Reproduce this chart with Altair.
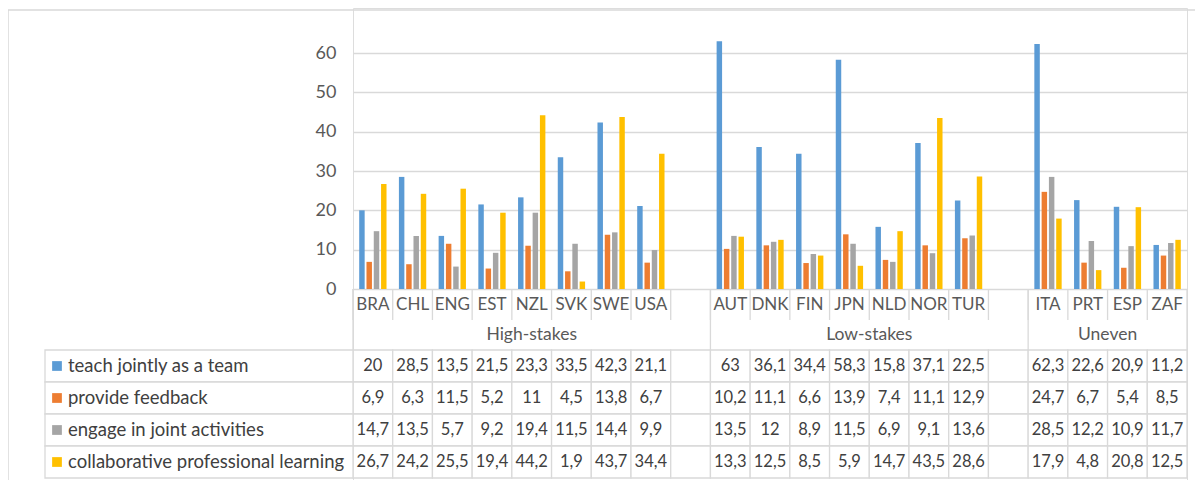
import altair as alt
import pandas as pd

# ---------------- data ----------------
slots = ["BRA", "CHL", "ENG", "EST", "NZL", "SVK", "SWE", "USA", "gap1",
         "AUT", "DNK", "FIN", "JPN", "NLD", "NOR", "TUR", "gap2",
         "ITA", "PRT", "ESP", "ZAF"]
countries = ["BRA", "CHL", "ENG", "EST", "NZL", "SVK", "SWE", "USA",
             "AUT", "DNK", "FIN", "JPN", "NLD", "NOR", "TUR",
             "ITA", "PRT", "ESP", "ZAF"]
series = ["teach jointly as a team", "provide feedback",
          "engage in joint activities", "collaborative professional learning"]
teach = [20, 28.5, 13.5, 21.5, 23.3, 33.5, 42.3, 21.1,
         63, 36.1, 34.4, 58.3, 15.8, 37.1, 22.5,
         62.3, 22.6, 20.9, 11.2]
feedback = [6.9, 6.3, 11.5, 5.2, 11, 4.5, 13.8, 6.7,
            10.2, 11.1, 6.6, 13.9, 7.4, 11.1, 12.9,
            24.7, 6.7, 5.4, 8.5]
joint = [14.7, 13.5, 5.7, 9.2, 19.4, 11.5, 14.4, 9.9,
         13.5, 12, 8.9, 11.5, 6.9, 9.1, 13.6,
         28.5, 12.2, 10.9, 11.7]
collab = [26.7, 24.2, 25.5, 19.4, 44.2, 1.9, 43.7, 34.4,
          13.3, 12.5, 8.5, 5.9, 14.7, 43.5, 28.6,
          17.9, 4.8, 20.8, 12.5]
groups = ["High-stakes", "Low-stakes", "Uneven"]
group_first = ["BRA", "AUT", "ITA"]
group_center_mid = ["NZL"]          # centre of an odd-width group: middle slot
group_center_edge = ["NLD", "ESP"]  # centre of an even-width group: slot edge
y_ticks = [0, 10, 20, 30, 40, 50, 60]
colors = ["#5B9BD5", "#ED7D31", "#A5A5A5", "#FFC000"]

# ---------------- tables ----------------
rows = []
for s, vals in zip(series, [teach, feedback, joint, collab]):
    for c, v in zip(countries, vals):
        rows.append({"slot": c, "series": s, "value": v,
                     "label": f"{v:g}".replace(".", ",")})
df = pd.DataFrame(rows)
cells_df = pd.DataFrame([{"slot": sl, "series": s} for sl in slots for s in series])
ser_df = pd.DataFrame({"series": series})
cat_df = pd.DataFrame({"slot": countries})
div_df = pd.DataFrame({"slot": slots})
gdiv_df = pd.DataFrame({"slot": group_first})
gmid_df = pd.DataFrame({"slot": group_center_mid, "g": groups[:1]})
gedge_df = pd.DataFrame({"slot": group_center_edge, "g": groups[1:]})
end_df = pd.DataFrame({"slot": [slots[-1]]})
frame_df = pd.DataFrame({"k": [0]})

FONT = "Lato"
GRID = "#D9D9D9"
TXT = "#595959"

xs = alt.Scale(type="band", domain=slots, paddingInner=0, paddingOuter=0)
rows_scale = alt.Scale(type="band", domain=series, range=[342, 470],
                       paddingInner=0, paddingOuter=0)
cscale = alt.Scale(domain=series, range=colors)


def X(bp=0.5):
    return alt.X("slot:N", scale=xs, axis=None, bandPosition=bp)


def YR():
    return alt.Y("series:N", scale=rows_scale, axis=None, bandPosition=0.5)


# ---------------- bars ----------------
bars = alt.Chart(df).mark_bar().encode(
    x=alt.X("slot:N", scale=xs, axis=None),
    xOffset=alt.XOffset("series:N", scale=alt.Scale(domain=series,
                                                   paddingInner=0.25,
                                                   paddingOuter=0.85)),
    y=alt.Y("value:Q",
            scale=alt.Scale(domain=[0, 60], range=[281, 45]),
            axis=alt.Axis(values=y_ticks, grid=True, gridColor=GRID,
                          gridWidth=1.5, domain=False, ticks=False, tickSize=0,
                          labelPadding=17, labelFontSize=18, labelColor=TXT,
                          labelFont=FONT, title=None)),
    color=alt.Color("series:N", scale=cscale, legend=None),
)

# ---------------- table ----------------
frame = alt.Chart(frame_df).mark_rect(fill="transparent", stroke=GRID,
                                      strokeWidth=1.5).encode(
    x=alt.value(-345), x2=alt.value(900), y=alt.value(2), y2=alt.value(520))

cells = alt.Chart(cells_df).mark_rect(fill="white", stroke=GRID,
                                      strokeWidth=1.3).encode(
    x=alt.X("slot:N", scale=xs, axis=None),
    y=alt.Y("series:N", scale=rows_scale, axis=None))

legend_cells = alt.Chart(ser_df).mark_rect(fill="white", stroke=GRID,
                                           strokeWidth=1.3).encode(
    x=alt.value(-308), x2=alt.value(0),
    y=alt.Y("series:N", scale=rows_scale, axis=None))

legend_sq = alt.Chart(ser_df).mark_square(size=95, opacity=1).encode(
    x=alt.value(-296), y=YR(),
    color=alt.Color("series:N", scale=cscale, legend=None))

legend_txt = alt.Chart(ser_df).mark_text(
    align="left", baseline="middle", font=FONT, fontSize=18.5, color="#404040"
).encode(x=alt.value(-285), y=YR(), text="series:N")

value_txt = alt.Chart(df).mark_text(
    align="center", baseline="middle", font=FONT, fontSize=16.5, color="#404040"
).encode(x=X(), y=YR(), text="label:N")

dividers = alt.Chart(div_df).mark_rule(color=GRID, strokeWidth=1.3).encode(
    x=X(0), y=alt.value(281), y2=alt.value(312))

gdividers = alt.Chart(gdiv_df).mark_rule(color=GRID, strokeWidth=1.3).encode(
    x=X(0), y=alt.value(281), y2=alt.value(342))

end_div = alt.Chart(end_df).mark_rule(color=GRID, strokeWidth=1.3).encode(
    x=X(1), y=alt.value(281), y2=alt.value(342))

cat_txt = alt.Chart(cat_df).mark_text(
    baseline="middle", font=FONT, fontSize=17, color=TXT
).encode(x=X(), y=alt.value(297), text="slot:N")

g_mid = alt.Chart(gmid_df).mark_text(
    baseline="middle", font=FONT, fontSize=17.5, color=TXT
).encode(x=X(0.5), y=alt.value(327), text="g:N")

g_edge = alt.Chart(gedge_df).mark_text(
    baseline="middle", font=FONT, fontSize=17.5, color=TXT
).encode(x=X(0), y=alt.value(327), text="g:N")

table = alt.layer(frame, cells, legend_cells, legend_sq, legend_txt, value_txt,
                  dividers, gdividers, end_div, cat_txt, g_mid, g_edge)

chart = alt.layer(table, bars).resolve_scale(y="independent").properties(
    width=834, height=472,
    padding={"left": 345, "top": 0, "right": 8, "bottom": 0},
    autosize=alt.AutoSizeParams(type="none"),
).configure_view(strokeWidth=0).configure(font=FONT)

chart.save("out.html", embed_options={"renderer": "svg", "actions": False})
